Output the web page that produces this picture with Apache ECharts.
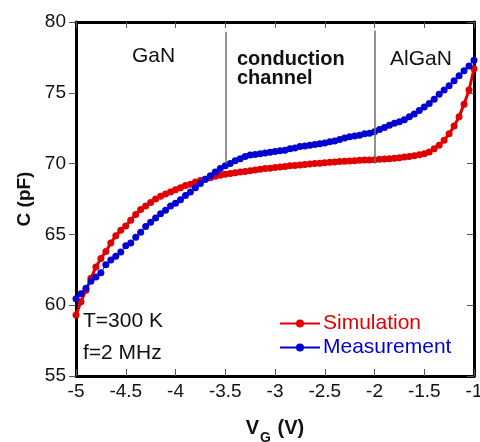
<!DOCTYPE html>
<html>
<head>
<meta charset="utf-8">
<script src="https://cdn.jsdelivr.net/npm/echarts@6/dist/echarts.min.js"></script>
<style>
  html, body { margin: 0; padding: 0; background: #fff; }
  #chart { width: 480px; height: 442px; }
</style>
</head>
<body>
<div id="chart"></div>
<script>
// Gate voltage sweep (V)
const vg = [
  -5.00, -4.95, -4.90, -4.85, -4.80, -4.75, -4.70, -4.65, -4.60, -4.55,
  -4.50, -4.45, -4.40, -4.35, -4.30, -4.25, -4.20, -4.15, -4.10, -4.05,
  -4.00, -3.95, -3.90, -3.85, -3.80, -3.75, -3.70, -3.65, -3.60, -3.55,
  -3.50, -3.45, -3.40, -3.35, -3.30, -3.25, -3.20, -3.15, -3.10, -3.05,
  -3.00, -2.95, -2.90, -2.85, -2.80, -2.75, -2.70, -2.65, -2.60, -2.55,
  -2.50, -2.45, -2.40, -2.35, -2.30, -2.25, -2.20, -2.15, -2.10, -2.05,
  -2.00, -1.95, -1.90, -1.85, -1.80, -1.75, -1.70, -1.65, -1.60, -1.55,
  -1.50, -1.45, -1.40, -1.35, -1.30, -1.25, -1.20, -1.15, -1.10, -1.05,
  -1.00
];

// Simulated capacitance (pF)
const cSimulation = [
  59.30, 60.25, 61.05, 61.90, 62.70, 63.30, 63.80, 64.40, 64.90, 65.30,
  65.60, 66.00, 66.40, 66.75, 67.00, 67.25, 67.50, 67.70, 67.85, 68.00,
  68.15, 68.30, 68.45, 68.55, 68.70, 68.80, 68.90, 69.00, 69.10, 69.18,
  69.25, 69.30, 69.35, 69.40, 69.45, 69.50, 69.55, 69.60, 69.65, 69.68,
  69.72, 69.76, 69.80, 69.84, 69.87, 69.90, 69.94, 69.97, 70.00, 70.03,
  70.06, 70.09, 70.12, 70.15, 70.17, 70.19, 70.21, 70.23, 70.25, 70.26,
  70.28, 70.30, 70.32, 70.35, 70.38, 70.42, 70.46, 70.50, 70.56, 70.62,
  70.70, 70.82, 71.05, 71.30, 71.65, 72.10, 72.65, 73.30, 74.20, 75.20,
  76.70
];

// Measured capacitance (pF)
const cMeasurement = [
  60.45, 60.80, 61.20, 61.70, 62.00, 62.30, 62.85, 63.20, 63.45, 63.75,
  64.20, 64.40, 64.80, 65.15, 65.55, 65.85, 66.15, 66.45, 66.70, 67.00,
  67.20, 67.45, 67.75, 68.00, 68.30, 68.60, 68.90, 69.15, 69.40, 69.65,
  69.85, 70.00, 70.20, 70.35, 70.50, 70.60, 70.65, 70.70, 70.75, 70.80,
  70.85, 70.90, 70.95, 71.05, 71.10, 71.20, 71.25, 71.30, 71.35, 71.40,
  71.45, 71.55, 71.60, 71.70, 71.80, 71.90, 71.95, 72.00, 72.10, 72.15,
  72.25, 72.40, 72.55, 72.70, 72.85, 72.95, 73.10, 73.30, 73.50, 73.75,
  74.00, 74.25, 74.55, 74.90, 75.20, 75.50, 75.85, 76.20, 76.55, 76.90,
  77.30
];

// Region boundaries drawn as vertical guide lines: [V, C bottom, C top]
const boundaries = [
  [-3.5, 70.0, 79.3],
  [-2.0, 70.0, 79.4]
];

const xTicks = { min: -5, max: -1, interval: 0.5 };
const yTicks = { min: 55, max: 80, interval: 5 };

const RED = '#e00000';
const BLUE = '#0000d2';
const FONT = '"Liberation Sans", Arial, Helvetica, sans-serif';

const zip = (xs, ys) => xs.map((x, i) => [x, ys[i]]);

const chart = echarts.init(document.getElementById('chart'), null, { renderer: 'canvas' });

const frameLine = { show: true, onZero: false, lineStyle: { color: '#000', width: 3 } };

chart.setOption({
  animation: false,
  backgroundColor: '#fff',
  grid: { left: 76, right: 6, top: 22, bottom: 66, containLabel: false, outerBoundsMode: 'none' },
  xAxis: [
    {
      type: 'value', position: 'bottom',
      min: xTicks.min, max: xTicks.max, interval: xTicks.interval,
      axisLine: frameLine,
      axisTick: { show: true, inside: true, length: 7, lineStyle: { color: '#555', width: 1 } },
      splitLine: { show: false },
      axisLabel: {
        color: '#111', fontFamily: FONT, fontSize: 19, margin: 6,
        formatter: v => String(v)
      },
      name: '{v|V}{sub|G}{v| (V)}',
      nameLocation: 'middle',
      nameGap: 42,
      nameTextStyle: {
        rich: {
          v: { fontFamily: FONT, fontSize: 20, fontWeight: 'bold', color: '#111', verticalAlign: 'top', lineHeight: 20 },
          sub: { fontFamily: FONT, fontSize: 14, fontWeight: 'bold', color: '#111', verticalAlign: 'top', padding: [13, 1, 0, 1], lineHeight: 14 }
        }
      }
    },
    {
      type: 'value', position: 'top',
      min: xTicks.min, max: xTicks.max, interval: xTicks.interval,
      axisLine: frameLine,
      axisTick: { show: true, inside: true, length: 6, lineStyle: { color: '#555', width: 1 } },
      axisLabel: { show: false },
      splitLine: { show: false }
    }
  ],
  yAxis: [
    {
      type: 'value', position: 'left',
      min: yTicks.min, max: yTicks.max, interval: yTicks.interval,
      axisLine: frameLine,
      axisTick: { show: true, inside: false, length: 7, lineStyle: { color: '#555', width: 1 } },
      splitLine: { show: false },
      axisLabel: { color: '#111', fontFamily: FONT, fontSize: 19, margin: 10 },
      name: 'C (pF)',
      nameLocation: 'middle',
      nameGap: 40,
      nameTextStyle: { fontFamily: FONT, fontSize: 19, fontWeight: 'bold', color: '#111' }
    },
    {
      type: 'value', position: 'right',
      min: yTicks.min, max: yTicks.max, interval: yTicks.interval,
      axisLine: frameLine,
      axisTick: { show: true, inside: true, length: 7, lineStyle: { color: '#555', width: 1 } },
      axisLabel: { show: false },
      splitLine: { show: false }
    }
  ],
  legend: {
    orient: 'vertical',
    left: 279,
    top: 313,
    itemWidth: 40,
    itemHeight: 10,
    itemGap: 3,
    padding: 0,
    textStyle: { fontFamily: FONT, fontSize: 21, lineHeight: 21, padding: [0, 0, 0, -2] },
    data: [
      { name: 'Simulation', textStyle: { color: RED } },
      { name: 'Measurement', textStyle: { color: BLUE } }
    ]
  },
  series: [
    {
      name: 'Simulation',
      type: 'line',
      data: zip(vg, cSimulation),
      symbol: 'circle',
      symbolSize: 7,
      showAllSymbol: true,
      lineStyle: { color: RED, width: 3 },
      itemStyle: { color: RED },
      z: 3
    },
    {
      name: 'Measurement',
      type: 'line',
      data: zip(vg, cMeasurement),
      symbol: 'circle',
      symbolSize: 7,
      showAllSymbol: true,
      lineStyle: { color: BLUE, width: 1 },
      itemStyle: { color: BLUE },
      z: 4
    },
    {
      name: 'boundaries',
      type: 'line',
      data: [],
      silent: true,
      markLine: {
        silent: true,
        symbol: ['none', 'none'],
        label: { show: false },
        lineStyle: { color: '#6e6e6e', width: 1.5, type: 'solid' },
        data: boundaries.map(b => [{ coord: [b[0], b[1]] }, { coord: [b[0], b[2]] }])
      },
      z: 2
    }
  ],
  graphic: [
    { type: 'text', left: 132, top: 46, style: { text: 'GaN', font: '21px ' + FONT, fill: '#111' } },
    { type: 'text', left: 237, top: 49, style: { text: 'conduction\nchannel', font: 'bold 20px ' + FONT, fill: '#111', lineHeight: 19 } },
    { type: 'text', left: 390, top: 49, style: { text: 'AlGaN', font: '21px ' + FONT, fill: '#111' } },
    { type: 'text', left: 83, top: 311, style: { text: 'T=300 K', font: '21px ' + FONT, fill: '#111' } },
    { type: 'text', left: 83, top: 343, style: { text: 'f=2 MHz', font: '21px ' + FONT, fill: '#111' } }
  ]
});
</script>
</body>
</html>
